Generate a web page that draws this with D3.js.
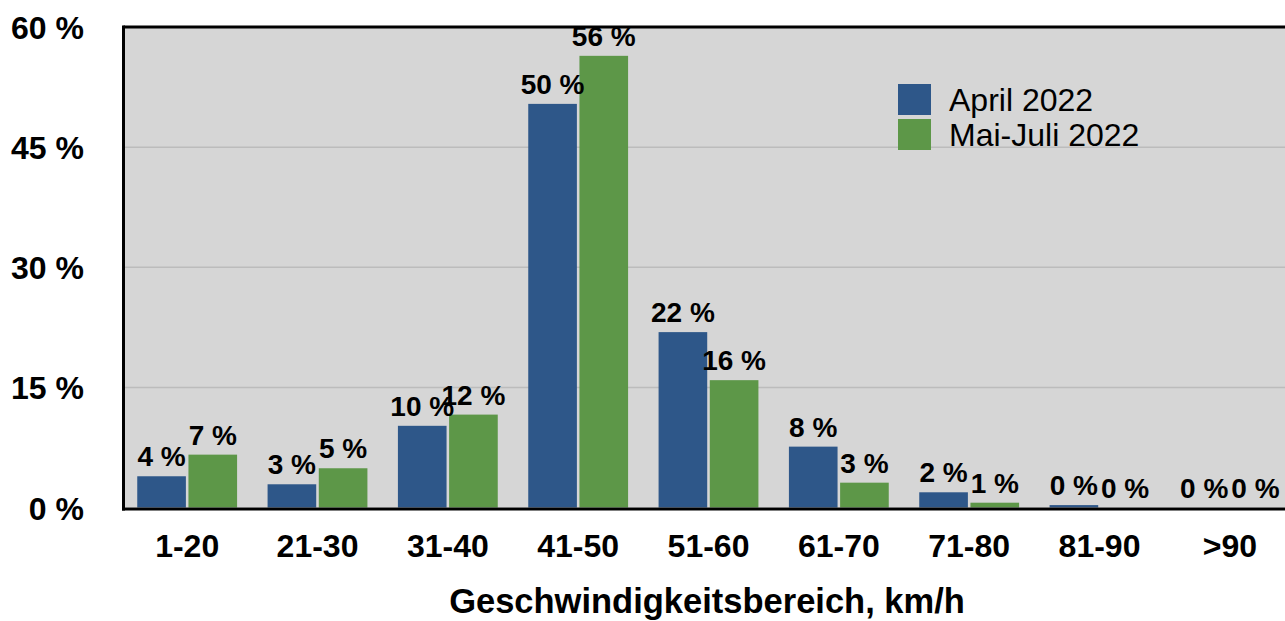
<!DOCTYPE html>
<html>
<head>
<meta charset="utf-8">
<script src="https://cdn.jsdelivr.net/npm/d3@7"></script>
<style>
  body { margin: 0; background: #fff; }
  svg { display: block; font-family: "Liberation Sans", Arial, Helvetica, sans-serif; }
</style>
</head>
<body>
<svg class="my_chart"></svg>
<script>
var categories = ["1-20", "21-30", "31-40", "41-50", "51-60", "61-70", "71-80", "81-90", ">90"];
var seriesNames = ["April 2022", "Mai-Juli 2022"];
var april = [3.9, 2.9, 10.2, 50.4, 21.9, 7.6, 1.9, 0.3, 0];
var maiJuli = [6.6, 4.9, 11.6, 56.4, 15.9, 3.1, 0.6, 0, 0];
var yTicks = [0, 15, 30, 45, 60];
var colors = ["#2e5789", "#5d9748"];

var W = 1285, H = 621;
var plotLeft = 123.5, plotTop = 27, plotBottom = 507.5;

var svg = d3.select(".my_chart")
    .attr("width", W)
    .attr("height", H);

var x0 = d3.scaleBand()
    .domain(categories)
    .range([122, 1295])
    .paddingInner(0.234)
    .paddingOuter(0.117);

var x1 = d3.scaleBand()
    .domain(seriesNames)
    .range([0, x0.bandwidth()])
    .paddingInner(0.05);

var y = d3.scaleLinear()
    .domain([0, 60])
    .range([plotBottom, plotTop]);

// plot background
svg.append("rect")
    .attr("x", plotLeft)
    .attr("y", plotTop)
    .attr("width", W - plotLeft)
    .attr("height", plotBottom - plotTop)
    .attr("fill", "#d6d6d6");

// grid lines
svg.append("g")
    .selectAll("line")
    .data(yTicks.slice(1, -1))
    .enter()
    .append("line")
    .attr("x1", plotLeft)
    .attr("x2", W)
    .attr("y1", function (d) { return y(d); })
    .attr("y2", function (d) { return y(d); })
    .attr("stroke", "#bcbcbc")
    .attr("stroke-width", 1.5);

// y axis labels
var yAxis = svg.append("g")
    .attr("transform", "translate(84,0)")
    .call(d3.axisLeft(y).tickValues(yTicks).tickSize(0).tickPadding(0)
        .tickFormat(function (d) { return d + " %"; }));
yAxis.select(".domain").remove();
yAxis.selectAll("text")
    .attr("dy", "0.36em")
    .style("font-size", "32px")
    .style("font-weight", "bold")
    .style("font-family", "'Liberation Sans', Arial, Helvetica, sans-serif")
    .attr("fill", "#000");

var rows = categories.map(function (c, i) {
    return {cat: c, values: [april[i], maiJuli[i]]};
});

var groups = svg.append("g")
    .selectAll("g")
    .data(rows)
    .enter()
    .append("g")
    .attr("transform", function (d) { return "translate(" + x0(d.cat) + ",0)"; });

groups.selectAll("rect")
    .data(function (d) { return d.values.map(function (v, j) { return {name: seriesNames[j], v: v, j: j}; }); })
    .enter()
    .append("rect")
    .attr("x", function (d) { return x1(d.name); })
    .attr("y", function (d) { return y(d.v); })
    .attr("width", x1.bandwidth())
    .attr("height", function (d) { return plotBottom - y(d.v); })
    .attr("fill", function (d) { return colors[d.j]; });

groups.selectAll("text")
    .data(function (d) { return d.values.map(function (v, j) { return {name: seriesNames[j], v: v, j: j}; }); })
    .enter()
    .append("text")
    .attr("x", function (d) { return x1(d.name) + x1.bandwidth() / 2; })
    .attr("y", function (d) { return y(d.v) - 10; })
    .attr("text-anchor", "middle")
    .style("font-size", "28px")
    .style("font-weight", "bold")
    .text(function (d) { return Math.round(d.v) + " %"; });

// frame
svg.append("line")
    .attr("x1", plotLeft).attr("x2", W)
    .attr("y1", plotTop).attr("y2", plotTop)
    .attr("stroke", "#000").attr("stroke-width", 3);
svg.append("line")
    .attr("x1", plotLeft).attr("x2", plotLeft)
    .attr("y1", plotTop - 1.5).attr("y2", plotBottom + 3)
    .attr("stroke", "#000").attr("stroke-width", 3);
svg.append("line")
    .attr("x1", plotLeft - 1.5).attr("x2", W)
    .attr("y1", plotBottom + 1.5).attr("y2", plotBottom + 1.5)
    .attr("stroke", "#000").attr("stroke-width", 3);

// x axis labels
var xAxis = svg.append("g")
    .attr("transform", "translate(0,534)")
    .call(d3.axisBottom(x0).tickSize(0).tickPadding(0));
xAxis.select(".domain").remove();
xAxis.selectAll("text")
    .attr("dy", "0.71em")
    .style("font-size", "32px")
    .style("font-weight", "bold")
    .style("font-family", "'Liberation Sans', Arial, Helvetica, sans-serif")
    .attr("fill", "#000");

svg.append("text")
    .attr("x", 707)
    .attr("y", 613)
    .attr("text-anchor", "middle")
    .style("font-size", "34.5px")
    .style("font-weight", "bold")
    .text("Geschwindigkeitsbereich, km/h");

// legend
var legend = svg.append("g")
    .selectAll("g")
    .data(seriesNames)
    .enter()
    .append("g")
    .attr("transform", function (d, i) { return "translate(898," + (84 + i * 35) + ")"; });

legend.append("rect")
    .attr("width", 33)
    .attr("height", 31)
    .attr("fill", function (d, i) { return colors[i]; });

legend.append("text")
    .attr("x", 51)
    .attr("y", 27)
    .style("font-size", "32px")
    .text(function (d) { return d; });
</script>
</body>
</html>
